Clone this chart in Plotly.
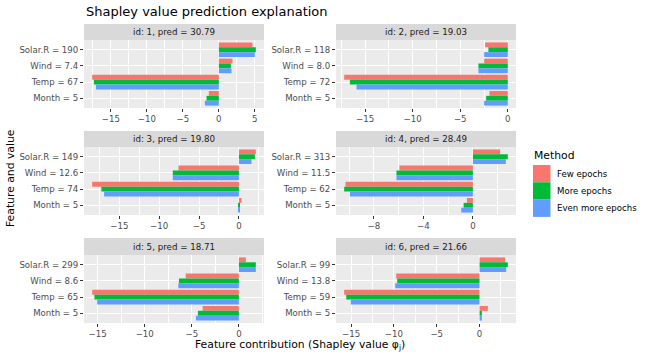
import plotly.graph_objects as go

# ---------------- data ----------------
methods = ["Few epochs", "More epochs", "Even more epochs"]
colors = ["#F8766D", "#00BA38", "#619CFF"]

ids = [1, 2, 3, 4, 5, 6]
preds = [30.79, 19.03, 19.80, 28.49, 18.71, 21.66]

labels_1 = ["Solar.R = 190", "Wind = 7.4", "Temp = 67", "Month = 5"]
labels_2 = ["Solar.R = 118", "Wind = 8.0", "Temp = 72", "Month = 5"]
labels_3 = ["Solar.R = 149", "Wind = 12.6", "Temp = 74", "Month = 5"]
labels_4 = ["Solar.R = 313", "Wind = 11.5", "Temp = 62", "Month = 5"]
labels_5 = ["Solar.R = 299", "Wind = 8.6", "Temp = 65", "Month = 5"]
labels_6 = ["Solar.R = 99", "Wind = 13.8", "Temp = 59", "Month = 5"]

few_epochs = [
    [4.68, 1.90, -17.60, -1.39],
    [-2.39, -2.49, -17.20, -1.93],
    [2.12, -7.58, -18.40, 0.33],
    [2.20, -5.93, -10.28, -0.48],
    [0.74, -5.65, -15.58, -3.85],
    [3.00, -9.73, -15.80, 0.97],
]
more_epochs = [
    [5.14, 1.67, -17.36, -1.71],
    [-2.04, -3.09, -16.60, -2.28],
    [2.00, -8.29, -17.25, 0.03],
    [2.82, -6.17, -10.39, -0.75],
    [1.80, -6.36, -15.34, -4.35],
    [3.30, -9.61, -15.56, 0.27],
]
even_more_epochs = [
    [5.00, 1.76, -17.08, -1.94],
    [-2.49, -3.09, -15.90, -2.49],
    [1.58, -8.29, -16.90, 0.02],
    [2.66, -6.17, -9.93, -0.94],
    [1.80, -6.43, -15.05, -4.56],
    [3.11, -9.84, -15.02, 0.27],
]
tick_steps = [5, 5, 5, 4, 5, 5]

# ---------------- layout helpers ----------------
W, H = 648, 360
FONT = "DejaVu Sans"
all_labels = [labels_1, labels_2, labels_3, labels_4, labels_5, labels_6]
series = [few_epochs, more_epochs, even_more_epochs]

col_x = [(84, 264), (336, 516)]
row_strip = [(24, 40), (131, 147), (238, 255)]
row_panel = [(40, 108), (147, 215), (255, 323)]


def px(x):
    return x / W


def py(y):
    return 1 - y / H


fig = go.Figure()
shapes = []
annotations = []
layout_axes = {}

for p in range(6):
    r, c = p // 2, p % 2
    n = p + 1
    xname = "x" if n == 1 else f"x{n}"
    yname = "y" if n == 1 else f"y{n}"
    for m, (meth, col) in enumerate(zip(methods, colors)):
        fig.add_trace(go.Bar(
            x=series[m][p], y=all_labels[p], orientation="h",
            name=meth, marker=dict(color=col, line=dict(width=0)),
            xaxis=xname, yaxis=yname, showlegend=False,
            hovertemplate="%{y}: %{x}<extra>" + meth + "</extra>",
        ))
    vals = few_epochs[p] + more_epochs[p] + even_more_epochs[p]
    lo, hi = min(0, min(vals)), max(0, max(vals))
    pad = 0.05 * (hi - lo)
    step = tick_steps[p]
    x0, x1 = col_x[c]
    ytop, ybot = row_panel[r]
    layout_axes["xaxis" if n == 1 else f"xaxis{n}"] = dict(
        domain=[px(x0), px(x1)], anchor=yname, range=[lo - pad, hi + pad],
        tick0=0, dtick=step, showgrid=True, gridcolor="white", gridwidth=1.1,
        zeroline=False, ticks="outside", ticklen=3, tickwidth=1, tickcolor="#333333",
        tickfont=dict(family=FONT, size=8.6, color="#4D4D4D"),
        minor=dict(tick0=0, dtick=step / 2, showgrid=True, gridcolor="white", gridwidth=0.55, ticks=""),
        showline=False, automargin=False, fixedrange=True,
    )
    layout_axes["yaxis" if n == 1 else f"yaxis{n}"] = dict(
        domain=[py(ybot), py(ytop)], anchor=xname, type="category",
        categoryorder="array", categoryarray=all_labels[p], range=[3.6, -0.6],
        showgrid=True, gridcolor="white", gridwidth=1.1, zeroline=False,
        ticks="outside", ticklen=3, tickwidth=1, tickcolor="#333333",
        tickfont=dict(family=FONT, size=8.6, color="#4D4D4D"),
        automargin=False, fixedrange=True,
    )
    s0, s1 = row_strip[r]
    shapes.append(dict(type="rect", xref="paper", yref="paper", x0=px(x0), x1=px(x1),
                       y0=py(s1), y1=py(s0), fillcolor="#D9D9D9", line=dict(width=0), layer="below"))
    annotations.append(dict(xref="paper", yref="paper", x=px((x0 + x1) / 2), y=py((s0 + s1) / 2),
                            text=f"id: {ids[p]}, pred = {preds[p]:.2f}", showarrow=False,
                            xanchor="center", yanchor="middle",
                            font=dict(family=FONT, size=8.7, color="#1A1A1A")))

# titles
annotations.append(dict(xref="paper", yref="paper", x=px(84), y=py(11), text="Shapley value prediction explanation",
                        showarrow=False, xanchor="left", yanchor="middle",
                        font=dict(family=FONT, size=13, color="black")))
annotations.append(dict(xref="paper", yref="paper", x=px(300), y=py(345),
                        text="Feature contribution (Shapley value φ<sub>j</sub>)",
                        showarrow=False, xanchor="center", yanchor="middle",
                        font=dict(family=FONT, size=10.8, color="black")))
annotations.append(dict(xref="paper", yref="paper", x=px(10), y=py(178), text="Feature and value",
                        textangle=-90, showarrow=False, xanchor="center", yanchor="middle",
                        font=dict(family=FONT, size=10.8, color="black")))

# legend
annotations.append(dict(xref="paper", yref="paper", x=px(532), y=py(155), text="Method",
                        showarrow=False, xanchor="left", yanchor="middle",
                        font=dict(family=FONT, size=10.8, color="black")))
for i, (meth, col) in enumerate(zip(methods, colors)):
    top = 165 + i * 17.3
    shapes.append(dict(type="rect", xref="paper", yref="paper", x0=px(533), x1=px(550.5),
                       y0=py(top + 17.3), y1=py(top), fillcolor=col, line=dict(width=0)))
    annotations.append(dict(xref="paper", yref="paper", x=px(555), y=py(top + 8.7), text=meth,
                            showarrow=False, xanchor="left", yanchor="middle",
                            font=dict(family=FONT, size=8.6, color="black")))

fig.update_layout(
    width=W, height=H, margin=dict(l=0, r=0, t=0, b=0),
    paper_bgcolor="white", plot_bgcolor="#EBEBEB",
    barmode="group", bargap=0.1, bargroupgap=0,
    showlegend=False, shapes=shapes, annotations=annotations,
    font=dict(family=FONT),
    **layout_axes,
)

fig.write_html(
    "out.html",
    config={"displayModeBar": False},
    post_script="document.body.style.margin='0px';document.body.style.overflow='hidden';",
)
